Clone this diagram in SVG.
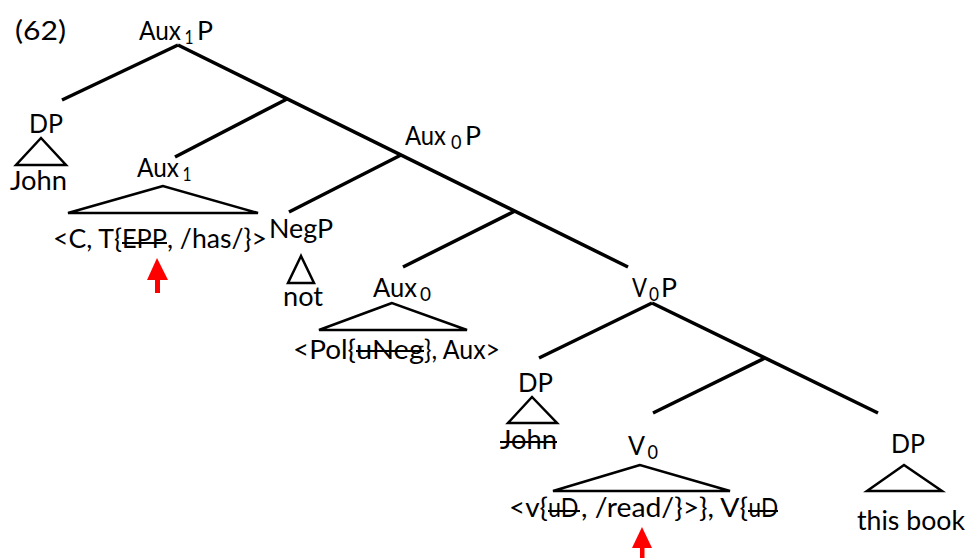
<svg xmlns="http://www.w3.org/2000/svg" width="970" height="558" viewBox="0 0 970 558">
<style>
text{font-family:Lato,"Liberation Sans",Arial,sans-serif;font-size:27.5px;fill:#000}
.sub{font-size:18.5px}
.edge{stroke:#000;stroke-width:3.5;stroke-linecap:butt;fill:none}
.tri{stroke:#000;stroke-width:2.5;fill:none;stroke-linejoin:miter}
.strike{stroke:#000;stroke-width:2}
.arrow{fill:#ff0000}
</style>
<rect width="970" height="558" fill="#fff"/>
<text x="15" y="40" textLength="51" lengthAdjust="spacingAndGlyphs">(62)</text>
<g id="connectors">
<line class="edge" x1="178" y1="45" x2="62" y2="100"/>
<line class="edge" x1="178" y1="45" x2="628" y2="267"/>
<line class="edge" x1="287" y1="99" x2="175" y2="157"/>
<line class="edge" x1="401" y1="155" x2="289" y2="212"/>
<line class="edge" x1="515" y1="211" x2="403" y2="267"/>
<line class="edge" x1="652" y1="303" x2="539" y2="358"/>
<line class="edge" x1="652" y1="303" x2="878" y2="413"/>
<line class="edge" x1="765" y1="358" x2="653" y2="413"/>
</g>
<g id="aux1p">
<text x="139" y="40" textLength="42" lengthAdjust="spacingAndGlyphs">Aux</text>
<text class="sub" x="184.5" y="44" textLength="9" lengthAdjust="spacingAndGlyphs">1</text>
<text x="197" y="40" textLength="16" lengthAdjust="spacingAndGlyphs">P</text>
</g>
<g id="dp-john">
<text x="29" y="133" textLength="34" lengthAdjust="spacingAndGlyphs">DP</text>
<polygon class="tri" points="41,138 16,165 66,165"/>
<text x="10" y="190" textLength="57" lengthAdjust="spacingAndGlyphs">John</text>
</g>
<g id="aux1">
<text x="137" y="177" textLength="42" lengthAdjust="spacingAndGlyphs">Aux</text>
<text class="sub" x="182.5" y="181" textLength="9" lengthAdjust="spacingAndGlyphs">1</text>
<polygon class="tri" points="163,186 68,213 258,213"/>
<text x="53" y="248" textLength="69" lengthAdjust="spacingAndGlyphs">&lt;C, T{</text>
<text x="122" y="248" textLength="45" lengthAdjust="spacingAndGlyphs">EPP</text>
<line class="strike" x1="122" y1="243" x2="167" y2="243"/>
<text x="167" y="248" textLength="100" lengthAdjust="spacingAndGlyphs">, /has/}&gt;</text>
</g>
<g id="arrow1">
<polygon class="arrow" points="157,258 147,280 168,280"/>
<rect class="arrow" x="155" y="279" width="5" height="14"/>
</g>
<g id="negp">
<text x="269" y="238" textLength="64" lengthAdjust="spacingAndGlyphs">NegP</text>
<polygon class="tri" points="301,256 288,283 314,283"/>
<text x="283" y="306" textLength="40" lengthAdjust="spacingAndGlyphs">not</text>
</g>
<g id="aux0p">
<text x="405" y="145" textLength="41" lengthAdjust="spacingAndGlyphs">Aux</text>
<text class="sub" x="451" y="149" textLength="10.5" lengthAdjust="spacingAndGlyphs">0</text>
<text x="465" y="145" textLength="16" lengthAdjust="spacingAndGlyphs">P</text>
</g>
<g id="aux0">
<text x="373" y="297" textLength="44" lengthAdjust="spacingAndGlyphs">Aux</text>
<text class="sub" x="420" y="301" textLength="11" lengthAdjust="spacingAndGlyphs">0</text>
<polygon class="tri" points="392,303 319,330 467,330"/>
<text x="293" y="359" textLength="63" lengthAdjust="spacingAndGlyphs">&lt;Pol{</text>
<text x="356" y="359" textLength="68" lengthAdjust="spacingAndGlyphs">uNeg</text>
<line class="strike" x1="356" y1="351" x2="424" y2="351"/>
<text x="424" y="359" textLength="76" lengthAdjust="spacingAndGlyphs">}, Aux&gt;</text>
</g>
<g id="v0p">
<text x="632" y="297" textLength="15" lengthAdjust="spacingAndGlyphs">V</text>
<text class="sub" x="649" y="301" textLength="10" lengthAdjust="spacingAndGlyphs">0</text>
<text x="661" y="297" textLength="16" lengthAdjust="spacingAndGlyphs">P</text>
</g>
<g id="dp-trace">
<text x="518" y="392" textLength="35" lengthAdjust="spacingAndGlyphs">DP</text>
<polygon class="tri" points="532,397 508,423 557,423"/>
<text x="500" y="449" textLength="57" lengthAdjust="spacingAndGlyphs">John</text>
<line class="strike" x1="500" y1="442" x2="557" y2="442"/>
</g>
<g id="v0">
<text x="628" y="455" textLength="17" lengthAdjust="spacingAndGlyphs">V</text>
<text class="sub" x="647.5" y="459" textLength="10.5" lengthAdjust="spacingAndGlyphs">0</text>
<polygon class="tri" points="640,465 553,491 730,491"/>
<text x="509" y="517" textLength="39" lengthAdjust="spacingAndGlyphs">&lt;v{</text>
<text x="548" y="517" textLength="30.5" lengthAdjust="spacingAndGlyphs">uD</text>
<line class="strike" x1="548" y1="511" x2="580" y2="511"/>
<text x="581" y="517" textLength="167" lengthAdjust="spacingAndGlyphs">, /read/}&gt;}, V{</text>
<text x="748.5" y="517" textLength="29.5" lengthAdjust="spacingAndGlyphs">uD</text>
<line class="strike" x1="748" y1="511" x2="778" y2="511"/>
</g>
<g id="arrow2">
<polygon class="arrow" points="642,527 632,548 652,548"/>
<rect class="arrow" x="640" y="547" width="4.5" height="11"/>
</g>
<g id="dp-book">
<text x="891" y="453" textLength="34" lengthAdjust="spacingAndGlyphs">DP</text>
<polygon class="tri" points="904,465 867,491 942,491"/>
<text x="857" y="530" textLength="108" lengthAdjust="spacingAndGlyphs">this book</text>
</g>
</svg>
